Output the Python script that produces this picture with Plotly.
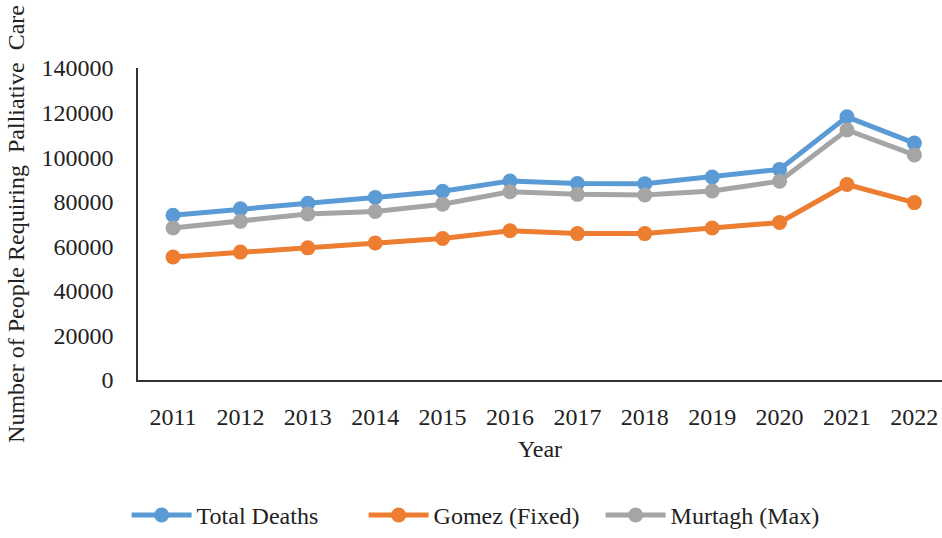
import plotly.graph_objects as go

years = ["2011", "2012", "2013", "2014", "2015", "2016", "2017", "2018", "2019", "2020", "2021", "2022"]
total_deaths = [73900, 76800, 79300, 81900, 84700, 89300, 88200, 88100, 91100, 94500, 118100, 106300]
gomez_fixed = [55200, 57400, 59300, 61500, 63500, 67000, 65700, 65700, 68200, 70700, 87700, 79600]
murtagh_max = [68200, 71200, 74500, 75600, 78900, 84500, 83300, 83000, 84800, 89200, 112200, 101000]
y_ticks = [0, 20000, 40000, 60000, 80000, 100000, 120000, 140000]

series = [
    ("Total Deaths", total_deaths, "#5B9BD5"),
    ("Gomez (Fixed)", gomez_fixed, "#ED7D31"),
    ("Murtagh (Max)", murtagh_max, "#A5A5A5"),
]

font_family = "Liberation Serif"
fig = go.Figure()
for name, vals, col in series:
    fig.add_trace(go.Scatter(
        x=years, y=vals, name=name, mode="lines+markers",
        line=dict(color=col, width=5),
        marker=dict(color=col, size=15),
    ))

fig.update_layout(
    width=942, height=538,
    margin=dict(l=138, r=0, t=68, b=154),
    paper_bgcolor="white", plot_bgcolor="white",
    font=dict(family=font_family, color="#222222", size=24),
    showlegend=True,
    legend=dict(orientation="h", x=0.428, xanchor="center", y=-0.434, yanchor="middle",
                font=dict(size=24, family=font_family), itemwidth=60,
                entrywidth=162, entrywidthmode="pixels"),
    xaxis=dict(
        type="category", range=[-0.52, 11.41],
        showline=True, linecolor="#333333", linewidth=1.5, mirror=False,
        showgrid=False, ticks="", tickfont=dict(size=24),
        ticklabelstandoff=14,
        title=dict(text="Year", font=dict(size=24), standoff=12),
    ),
    yaxis=dict(
        range=[0, 140000], tickvals=y_ticks, tickformat="d",
        showline=True, linecolor="#333333", linewidth=1.5,
        showgrid=False, ticks="", tickfont=dict(size=24),
        ticklabelstandoff=18, zeroline=False,
        title=dict(text="Number of People Requiring  Palliative  Care", font=dict(size=24), standoff=10),
    ),
)

fig.write_html("out.html")
